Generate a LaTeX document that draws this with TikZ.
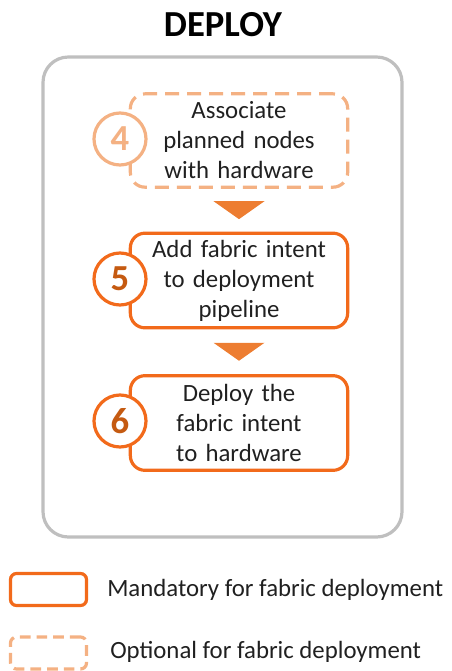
\documentclass[tikz,border=0pt]{standalone}
\usepackage{fontspec}
\setmainfont{Carlito}
\usetikzlibrary{calc}
\definecolor{orm}{HTML}{F26A1B}
\definecolor{orl}{HTML}{F4B183}
\definecolor{ortri}{HTML}{ED7D31}
\definecolor{ordig}{HTML}{C55A11}
\definecolor{grayb}{HTML}{BFBFBF}
\definecolor{txt}{HTML}{202020}
\begin{document}
\begin{tikzpicture}[x=0.75pt,y=-0.75pt,
  stepbox/.style={draw=orm, line width=2.4pt, rounded corners=11pt,
    minimum width=163pt, minimum height=71pt, text width=150pt, align=center,
    font=\fontsize{18.6}{22.5}\selectfont, text=txt, inner sep=0pt},
  optbox/.style={stepbox, draw=orl, dash pattern=on 10.5pt off 6pt},
  numcirc/.style={circle, draw=orm, fill=white, line width=2.4pt,
    minimum size=39pt, inner sep=0pt, text=ordig,
    font=\fontsize{27.5}{27.5}\selectfont\bfseries},
  optcirc/.style={numcirc, draw=orl, text=orl},
  tri/.style={fill=ortri},
  legsolid/.style={draw=orm, line width=2.4pt, rounded corners=4.5pt,
    minimum width=57pt, minimum height=24pt, inner sep=0pt},
  legdash/.style={legsolid, draw=orl, dash pattern=on 8pt off 4.5pt},
  legtext/.style={anchor=west, text=txt, font=\fontsize{18.6}{22.5}\selectfont, inner sep=0pt}
]
\useasboundingbox (0,0) rectangle (451,671);
\node[font=\fontsize{27.5}{30}\selectfont\bfseries, text=black] (title) at (223,25) {DEPLOY};
\draw[grayb, line width=2.4pt, rounded corners=19pt] (43,57) rectangle (402,537);
\node[optbox, minimum height=70pt] (b4) at (239,140.5) {Associate\\planned nodes\\with hardware};
\node[stepbox] (b5) at (239,280.5) {Add fabric intent\\to deployment\\pipeline};
\node[stepbox] (b6) at (239,423) {Deploy the\\fabric intent\\to hardware};
\node[optcirc] (c4) at (120,139) {4};
\node[numcirc] (c5) at (120,279) {5};
\node[numcirc] (c6) at (120,421) {6};
\coordinate (m1) at ($(b4.south)!0.5!(b5.north)$);
\coordinate (m2) at ($(b5.south)!0.5!(b6.north)$);
\fill[tri] ($(m1)+(-25.5,-9)$) -- ($(m1)+(25.5,-9)$) -- ($(m1)+(0,9)$) -- cycle;
\fill[tri] ($(m2)+(-25.5,-9)$) -- ($(m2)+(25.5,-9)$) -- ($(m2)+(0,9)$) -- cycle;
\node[legsolid] (ls) at (48.5,589.5) {};
\node[legtext] (lt1) at (107,590) {Mandatory for fabric deployment};
\node[legdash] (ld) at (48.5,653) {};
\node[legtext] (lt2) at (110,652) {Optional for fabric deployment};
\end{tikzpicture}
\end{document}
